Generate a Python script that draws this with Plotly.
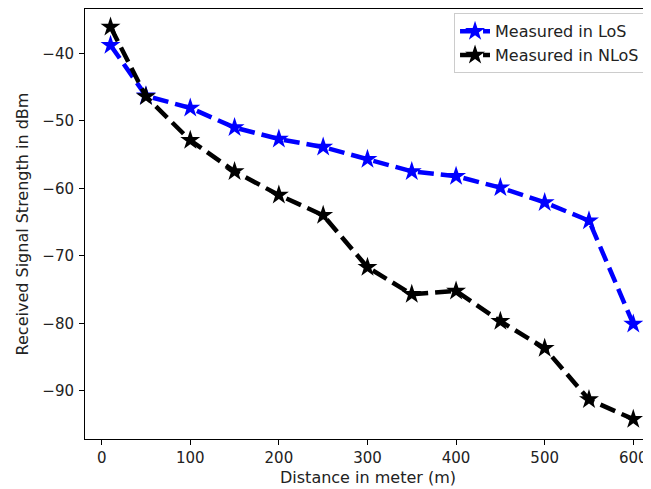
import plotly.graph_objects as go

distance = [10, 50, 100, 150, 200, 250, 300, 350, 400, 450, 500, 550, 600]
los = [-38.8, -46.3, -48.1, -51.0, -52.7, -53.9, -55.7, -57.5, -58.2, -59.9, -62.1, -64.8, -80.1]
nlos = [-36.1, -46.4, -52.9, -57.5, -61.0, -64.0, -71.7, -75.7, -75.2, -79.7, -83.7, -91.3, -94.2]
x_ticks = [0, 100, 200, 300, 400, 500, 600]
y_ticks = [-90, -80, -70, -60, -50, -40]

tick_font = dict(family="DejaVu Sans", size=15, color="#222222")
label_font = dict(family="DejaVu Sans", size=16, color="#222222")

fig = go.Figure()
fig.add_trace(go.Scatter(
    x=distance, y=los, mode="lines+markers", name="Measured in LoS",
    line=dict(color="#0000ff", width=4.5, dash="16px,7px"),
    marker=dict(symbol="star", size=15, color="#0000ff"),
))
fig.add_trace(go.Scatter(
    x=distance, y=nlos, mode="lines+markers", name="Measured in NLoS",
    line=dict(color="#000000", width=4.5, dash="16px,7px"),
    marker=dict(symbol="star", size=15, color="#000000"),
))

# page body has an 8px default margin, so the figure is sized/offset to compensate
fig.update_layout(
    width=643, height=481,
    margin=dict(l=77, r=0, t=1, b=50),
    paper_bgcolor="white", plot_bgcolor="white",
    font=tick_font,
    showlegend=True,
    legend=dict(
        x=0.652, y=0.99, xanchor="left", yanchor="top",
        bgcolor="rgba(255,255,255,0.8)", bordercolor="#cccccc", borderwidth=1,
        font=label_font, tracegroupgap=0,
    ),
    xaxis=dict(
        range=[-18.8, 620], tickvals=x_ticks, tickfont=tick_font,
        showgrid=False, zeroline=False, automargin=False,
        showline=True, linecolor="black", linewidth=1, mirror=True,
        ticks="outside", ticklen=5, tickcolor="black", tickwidth=1,
        title=dict(text="Distance in meter (m)", font=label_font, standoff=5),
    ),
    yaxis=dict(
        range=[-97.14, -33.44], tickvals=y_ticks, tickfont=tick_font,
        showgrid=False, zeroline=False, automargin=False,
        showline=True, linecolor="black", linewidth=1,
        ticks="outside", ticklen=5, tickcolor="black", tickwidth=1,
        ticklabelstandoff=2,
        title=dict(text="Received Signal Strength in dBm", font=label_font, standoff=9),
    ),
)

fig.write_html("out.html")
